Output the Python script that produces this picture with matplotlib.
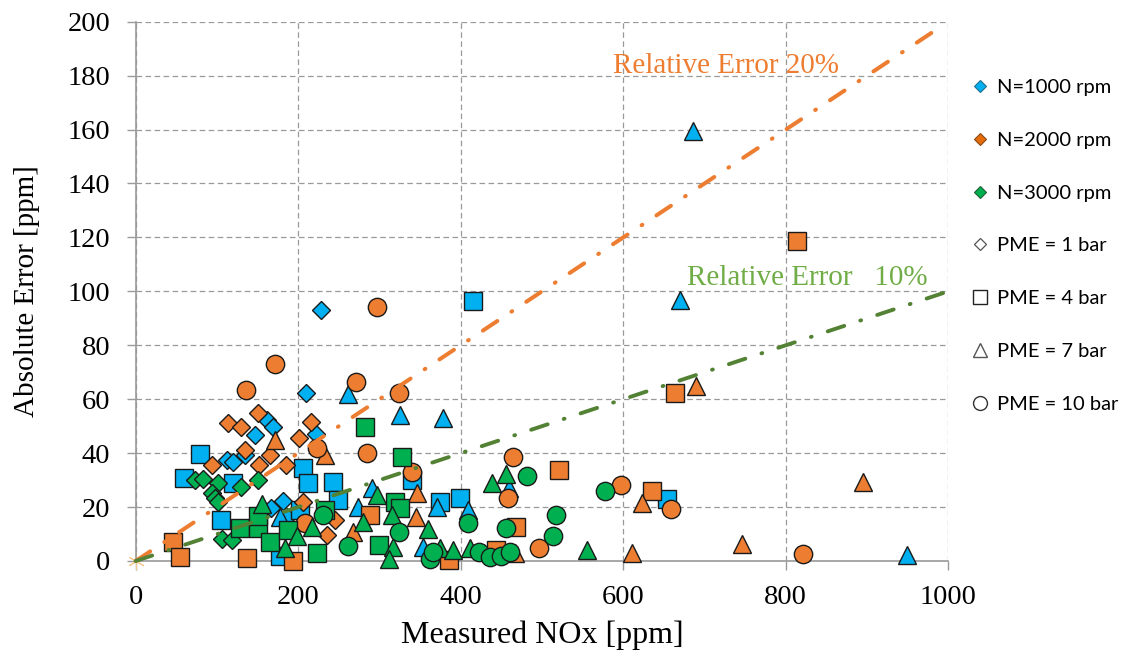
import matplotlib
matplotlib.use('Agg')
import matplotlib.pyplot as plt
from matplotlib.lines import Line2D

plt.rcParams['lines.scale_dashes'] = False

# ---------------- data (Measured NOx [ppm], Absolute Error [ppm]) ----------------
# N = 1000 rpm
n1000_pme1_x = [228, 210, 161, 168.6, 146.8, 221.5, 112, 120, 134.5, 181.6, 166, 186]
n1000_pme1_y = [93.1, 62.4, 52.3, 49.6, 46.7, 47.1, 37.5, 36.8, 39.3, 22.3, 19.5, 16.4]
n1000_pme4_x = [415.5, 79, 60, 120, 205.5, 212.4, 243, 249.3, 105, 340, 374.5, 399, 653.5, 178, 202]
n1000_pme4_y = [96.5, 39.8, 30.7, 28.9, 34.6, 29.1, 29.4, 22.6, 15.2, 30.0, 22.0, 23.2, 22.9, 2.0, 18.9]
n1000_pme7_x = [686, 670, 261, 325.3, 378.6, 290.4, 274, 370.4, 409, 353, 949.6, 459, 177.6]
n1000_pme7_y = [159.5, 96.8, 61.8, 54.1, 52.9, 27.0, 20.1, 20.1, 18.9, 5.3, 2.2, 27.0, 16.4]

# N = 2000 rpm
n2000_pme1_x = [151, 114, 129.6, 215.4, 201, 135, 165, 94, 152, 184.6, 206, 245, 236]
n2000_pme1_y = [55.0, 51.0, 49.6, 51.7, 45.5, 41.2, 39.3, 35.6, 35.6, 35.6, 22.0, 15.2, 9.5]
n2000_pme4_x = [813.4, 664, 521, 635, 46.3, 54.5, 136.6, 194, 288.3, 468.5, 385, 444]
n2000_pme4_y = [118.8, 62.4, 33.7, 26.0, 7.2, 1.6, 1.0, 0.1, 17.1, 12.7, 0.4, 4.1]
n2000_pme7_x = [172, 233, 345.8, 344.9, 268, 690, 622.7, 611, 745.7, 895.5, 467]
n2000_pme7_y = [44.9, 39.3, 25.1, 16.4, 10.9, 64.9, 21.6, 3.1, 6.3, 29.4, 2.9]
n2000_pme10_x = [296.5, 171, 135.6, 271, 324, 222.7, 284.5, 339.6, 464, 458.6, 597.6, 658.3, 496.7, 821, 208]
n2000_pme10_y = [94.3, 73.0, 63.4, 66.5, 62.2, 42.0, 40.2, 33.0, 38.6, 23.3, 28.2, 19.2, 5.0, 2.6, 14.0]

# N = 3000 rpm
n3000_pme1_x = [151, 73, 83, 101.7, 129.3, 93.5, 97.6, 101, 106, 118]
n3000_pme1_y = [30.2, 30.0, 30.4, 28.9, 27.6, 25.1, 23.3, 22.0, 8.1, 7.8]
n3000_pme4_x = [282, 327.3, 319, 325, 233, 128.4, 150.5, 150, 165, 187.5, 222.7, 300]
n3000_pme4_y = [49.8, 38.6, 22.0, 19.5, 19.0, 12.4, 12.1, 16.8, 7.2, 11.5, 3.0, 6.0]
n3000_pme7_x = [156, 296.5, 438, 455.7, 315, 280, 360, 216.6, 198, 184, 317, 312, 374, 391, 411, 555.5]
n3000_pme7_y = [21.1, 24.5, 29.0, 32.3, 17.0, 14.6, 12.0, 12.7, 9.2, 4.7, 5.3, 0.7, 4.7, 4.1, 4.7, 4.1]
n3000_pme10_x = [231, 261, 323.5, 409.5, 362, 366, 423, 436, 449, 461, 455.7, 482, 517.5, 513.5, 577]
n3000_pme10_y = [17.1, 5.7, 10.8, 14.0, 0.6, 3.4, 3.2, 1.6, 1.9, 3.4, 12.2, 31.5, 17.1, 9.2, 26.1]

# reference lines (end points)
err20_x = [0, 985]
err20_y = [0, 197]
err10_x = [0, 1000]
err10_y = [0, 100]

legend_labels = ['N=1000 rpm', 'N=2000 rpm', 'N=3000 rpm',
                 'PME = 1 bar', 'PME = 4 bar', 'PME = 7 bar', 'PME = 10 bar']

# ---------------- styling ----------------
BLUE = '#00B0F0'
ORANGE = '#ED7D31'
GREEN = '#00B050'
LINE_OR = '#ED7D31'
LINE_GR = '#548235'
TEXT_GR = '#70AD47'
GRID = '#999999'
SERIF = 'Liberation Serif'

W, H = 1131, 654
fig = plt.figure(figsize=(W / 100, H / 100), dpi=100)
ax = fig.add_axes([135.7 / W, 1 - 561 / H, (948.3 - 135.7) / W, (561 - 21.7) / H])

marker_ms = {'D': 9.6, 's': 13.3, '^': 13.3, 'o': 13.2}

series = [
    (n1000_pme1_x, n1000_pme1_y, BLUE, 'D'),
    (n1000_pme4_x, n1000_pme4_y, BLUE, 's'),
    (n1000_pme7_x, n1000_pme7_y, BLUE, '^'),
    (n2000_pme1_x, n2000_pme1_y, ORANGE, 'D'),
    (n2000_pme4_x, n2000_pme4_y, ORANGE, 's'),
    (n2000_pme7_x, n2000_pme7_y, ORANGE, '^'),
    (n2000_pme10_x, n2000_pme10_y, ORANGE, 'o'),
    (n3000_pme1_x, n3000_pme1_y, GREEN, 'D'),
    (n3000_pme4_x, n3000_pme4_y, GREEN, 's'),
    (n3000_pme7_x, n3000_pme7_y, GREEN, '^'),
    (n3000_pme10_x, n3000_pme10_y, GREEN, 'o'),
]
for xs, ys, col, mk in series:
    ax.plot(xs, ys, linestyle='none', marker=mk, ms=marker_ms[mk],
            markerfacecolor=col, markeredgecolor='#1a1a1a', markeredgewidth=1.0,
            clip_on=False, zorder=3)

# relative error lines
ax.plot(err20_x, err20_y, color=LINE_OR, lw=2.9, zorder=4, clip_on=False,
        dashes=(12.5, 12.2, 0.6, 12.2), dash_capstyle='round')
ax.plot(err10_x, err10_y, color=LINE_GR, lw=2.8, zorder=4, clip_on=False,
        dashes=(12.5, 12.2, 0.6, 12.2), dash_capstyle='round')
ax.plot([0], [0], linestyle='none', marker=(6, 2, 0), ms=12, markeredgecolor='#F6C98E',
        markeredgewidth=0.8, zorder=2, clip_on=False)

ax.text(587, 181, 'Relative Error 20%', color=LINE_OR, fontsize=21, family=SERIF,
        ha='left', va='baseline', zorder=5)
ax.text(678.5, 102.4, 'Relative Error   10%', color=TEXT_GR, fontsize=21, family=SERIF,
        ha='left', va='baseline', zorder=5)

# axes
ax.set_xlim(0, 1000)
ax.set_ylim(0, 200)
ax.set_xticks(range(0, 1001, 200))
ax.set_yticks(range(0, 201, 20))
ax.grid(True, color=GRID, linestyle=(0, (4, 2.5)), linewidth=0.9)
ax.set_axisbelow(True)
for s in ['top', 'right']:
    ax.spines[s].set_visible(False)
for s in ['left', 'bottom']:
    ax.spines[s].set_color('#9a9a9a')
    ax.spines[s].set_linewidth(1.2)
ax.tick_params(axis='both', direction='out', length=6.5, width=1.0, color='#9a9a9a',
               labelsize=20.5, labelcolor='black')
ax.tick_params(axis='y', pad=12)
ax.tick_params(axis='x', pad=11)
for lab in ax.get_xticklabels() + ax.get_yticklabels():
    lab.set_family(SERIF)

ax.set_xlabel('Measured NOx [ppm]', fontsize=23, family=SERIF)
ax.set_ylabel('Absolute Error [ppm]', fontsize=21, family=SERIF)
ax.xaxis.set_label_coords(0.5, -0.11)
ax.yaxis.set_label_coords(-0.118, 0.5)

# legend
handles = [
    Line2D([], [], ls='none', marker='D', ms=6.5, mfc=BLUE, mec='#1F6F8F', mew=0.8),
    Line2D([], [], ls='none', marker='D', ms=6.5, mfc='#E46C0A', mec='#8A4A1A', mew=0.8),
    Line2D([], [], ls='none', marker='D', ms=6.5, mfc=GREEN, mec='#1E5E35', mew=0.8),
    Line2D([], [], ls='none', marker='D', ms=6.5, mfc='white', mec='#555555', mew=0.9),
    Line2D([], [], ls='none', marker='s', ms=10, mfc='white', mec='#222222', mew=1.0),
    Line2D([], [], ls='none', marker='^', ms=10, mfc='white', mec='#555555', mew=1.0),
    Line2D([], [], ls='none', marker='o', ms=10, mfc='white', mec='#333333', mew=1.0),
]
leg = fig.legend(handles, legend_labels, loc='upper left', bbox_to_anchor=(971 / W, 1 - 79 / H),
                 frameon=False, prop={'family': 'Lato', 'size': 14.5}, labelspacing=1.77,
                 handlelength=0.9, handletextpad=0.4, borderpad=0, borderaxespad=0)

fig.savefig('out.png', dpi=100)
